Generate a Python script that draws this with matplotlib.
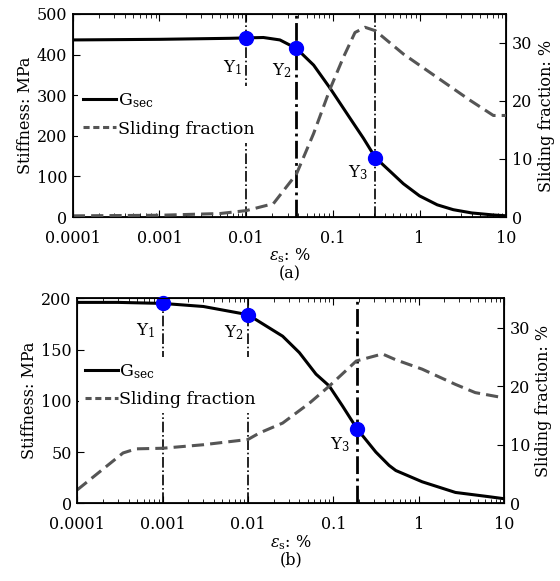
import numpy as np
import matplotlib
matplotlib.use("Agg")
import matplotlib.pyplot as plt
from matplotlib.lines import Line2D
from matplotlib.ticker import FixedLocator, FixedFormatter, LogLocator, NullFormatter

plt.rcParams['font.family'] = ['DejaVu Serif']
plt.rcParams['mathtext.fontset'] = 'dejavuserif'
plt.rcParams['font.size'] = 11.5

# x tick labels (strain, %)
xticks = [0.0001, 0.001, 0.01, 0.1, 1, 10]
xticklabels = ['0.0001', '0.001', '0.01', '0.1', '1', '10']

# panel (a): secant stiffness
eps_a_g = [0.0001, 0.001, 0.0065, 0.01, 0.0158, 0.0245, 0.038, 0.06, 0.093,
           0.158, 0.225, 0.31, 0.46, 0.65, 1.0, 1.6, 2.45, 4.0, 7.1, 10]
G_a = [436, 437.5, 440, 441, 442, 436, 415, 374, 317,
       243, 194, 146, 112, 82, 52, 30, 18, 10, 5, 3]
# panel (a): sliding fraction
eps_a_s = [0.0001, 0.001, 0.005, 0.01, 0.0206, 0.038, 0.06, 0.093, 0.132,
           0.18, 0.235, 0.31, 0.65, 1.58, 3.84, 7.1, 10]
sf_a = [0.2, 0.3, 0.6, 1.1, 2.3, 7.4, 14.4, 22.1, 27.5,
        31.8, 32.7, 32.1, 28.1, 24.1, 20.1, 17.5, 17.5]
# panel (a): yield points
yield_eps_a = [0.01, 0.038, 0.31]
yield_G_a = [441, 415, 146]

# panel (b): secant stiffness
eps_b_g = [0.0001, 0.0003, 0.001, 0.003, 0.01, 0.0255, 0.04, 0.0627, 0.0895,
           0.128, 0.19, 0.315, 0.45, 0.54, 1.1, 2.7, 6.6, 10]
G_b = [196, 196, 195, 192, 184, 163, 147, 126, 114.5,
       95, 72.6, 50, 37, 32, 21, 10.6, 6.5, 4.5]
# panel (b): sliding fraction
eps_b_s = [0.0001, 0.000344, 0.00049, 0.001, 0.003, 0.01, 0.0136, 0.0255,
           0.0525, 0.0895, 0.186, 0.376, 0.54, 1.1, 2.7, 4.6, 10]
sf_b = [2.3, 8.6, 9.3, 9.4, 10.0, 10.9, 12.0, 13.7,
        17.1, 20.0, 24.3, 25.5, 24.5, 22.9, 20.3, 18.9, 18.0]
# panel (b): yield points
yield_eps_b = [0.001, 0.01, 0.19]
yield_G_b = [195, 184, 72.6]

yield_names = [r'Y$_1$', r'Y$_2$', r'Y$_3$']


def draw_panel(rect, eps_g, G, eps_s, sf, yeps, yG, glim, gticks, sflim,
               label_offsets, vline_lw, leg_anchor, tag):
    ax = fig.add_axes(rect)
    ax.set_xscale('log')
    ax.set_xlim(1e-4, 10)
    ax.set_ylim(*glim)
    ax.set_yticks(gticks)
    ax.tick_params(axis='y', direction='in', length=5, pad=4)
    for s in ax.spines.values():
        s.set_linewidth(1.3)

    for xv, lw in zip(yeps, vline_lw):
        ax.axvline(xv, color='black', ls='-.', lw=lw, zorder=1)
    ax.plot(eps_g, G, color='black', lw=2.2, zorder=2)
    ax.plot(yeps, yG, 'o', color='#0000ff', ms=10, zorder=5, clip_on=False)
    for xv, yv, name, off in zip(yeps, yG, yield_names, label_offsets):
        ax.annotate(name, (xv, yv), xytext=off, textcoords='offset points',
                    ha='right', va='baseline', fontsize=12)
    ax.set_ylabel('Stiffness: MPa', labelpad=2)
    ax.set_xlabel(r'$\epsilon_{\rm s}$: %' + '\n' + tag, labelpad=0,
                  linespacing=1.0)

    ax2 = ax.twinx()
    ax2.plot(eps_s, sf, color='#555555', ls=(0, (4, 2)), lw=2.2)
    ax2.set_ylim(*sflim)
    ax2.set_yticks([0, 10, 20, 30])
    ax2.tick_params(axis='y', direction='in', length=5, pad=4)
    ax2.set_ylabel('Sliding fraction: %', labelpad=4)

    # x axis set after twinx so the shared axis keeps these settings
    ax.set_xlim(1e-4, 10)
    ax.xaxis.set_major_locator(FixedLocator(xticks))
    ax.xaxis.set_major_formatter(FixedFormatter(xticklabels))
    ax.xaxis.set_minor_locator(LogLocator(base=10, subs=np.arange(2, 10)))
    ax.xaxis.set_minor_formatter(NullFormatter())
    ax.tick_params(axis='x', which='both', direction='in', top=True, pad=9)
    ax.tick_params(axis='x', which='major', length=5)
    ax.tick_params(axis='x', which='minor', length=3)

    handles = [Line2D([], [], color='black', lw=2.2),
               Line2D([], [], color='#555555', ls=(0, (2, 1.2)), lw=2.2)]
    leg = ax2.legend(handles, [r'G$_{\rm sec}$', 'Sliding fraction'],
                     loc='center left', bbox_to_anchor=leg_anchor,
                     frameon=True, fancybox=False, framealpha=1,
                     facecolor='white', edgecolor='none', borderpad=0.3,
                     handlelength=1.9, handletextpad=0.1, labelspacing=0.6,
                     borderaxespad=0, fontsize=12.5)
    leg.set_zorder(10)
    return ax, ax2


fig = plt.figure(figsize=(5.6, 5.81), dpi=100)

draw_panel([0.130, 0.6265, 0.774, 0.3495], eps_a_g, G_a, eps_a_s, sf_a,
           yield_eps_a, yield_G_a, (0, 500), [0, 100, 200, 300, 400, 500],
           (0, 35), [(-3, -25), (-3.5, -19), (-5.5, -14)], [1.2, 2.0, 1.2],
           (0.012, 0.505), '(a)')

draw_panel([0.138, 0.1337, 0.762, 0.3529], eps_b_g, G_b, eps_b_s, sf_b,
           yield_eps_b, yield_G_b, (0, 200), [0, 50, 100, 150, 200],
           (0, 35), [(-5.5, -23), (-3, -16.5), (-5, -14.5)], [1.2, 1.2, 2.0],
           (0.005, 0.577), '(b)')

fig.savefig('out.png', dpi=100)
